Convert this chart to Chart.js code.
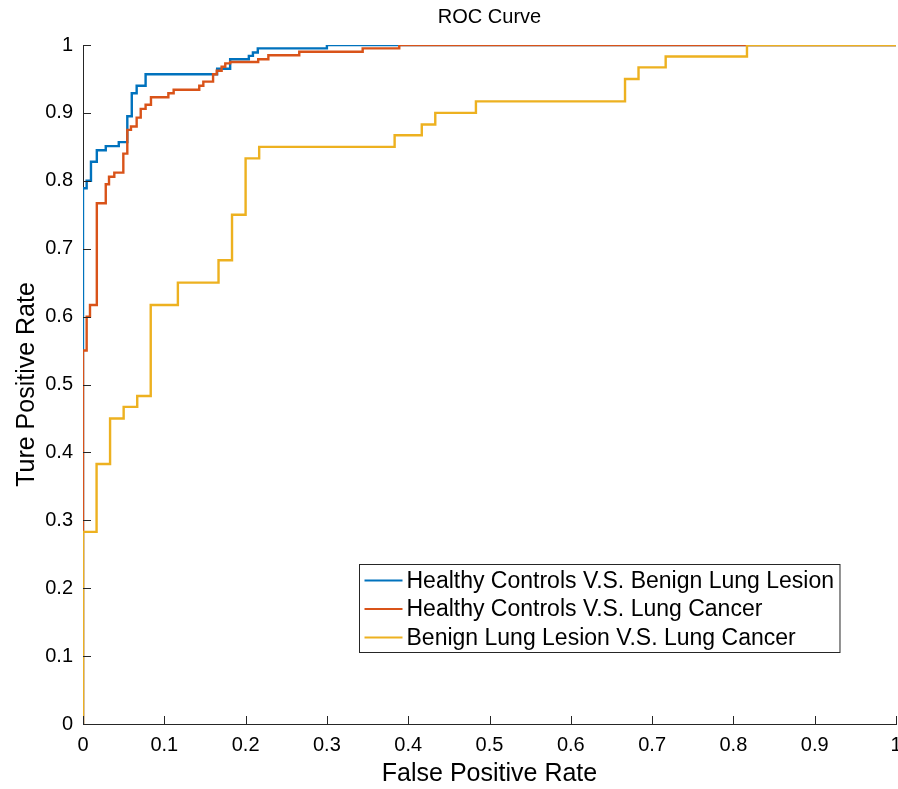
<!DOCTYPE html>
<html>
<head>
<meta charset="utf-8">
<script src="https://cdn.jsdelivr.net/npm/chart.js@4/dist/chart.umd.min.js"></script>
<style>
  html, body { margin: 0; padding: 0; background: #fff; overflow: hidden; }
  #wrap { width: 898px; height: 789px; }
  canvas { display: block; }
</style>
</head>
<body>
<div id="wrap"><canvas id="rocChart" width="898" height="789"></canvas></div>
<script>
// ROC data (fpr where the curve rises, tpr after the rise)
const seriesNames = [
  "Healthy Controls V.S. Benign Lung Lesion",
  "Healthy Controls V.S. Lung Cancer",
  "Benign Lung Lesion V.S. Lung Cancer"
];

const blueFpr = [0, 0, 0.0045, 0.0098, 0.017, 0.028, 0.044, 0.0545, 0.060, 0.066, 0.077, 0.165, 0.181, 0.204, 0.209, 0.215, 0.300, 1];
const blueTpr = [0, 0.789, 0.800, 0.828, 0.845, 0.851, 0.857, 0.895, 0.929, 0.940, 0.957, 0.965, 0.979, 0.984, 0.989, 0.995, 1, 1];

const redFpr = [0, 0, 0.0045, 0.0086, 0.017, 0.028, 0.032, 0.0385, 0.0496, 0.0545, 0.059, 0.066, 0.071, 0.077, 0.0836, 0.105, 0.1115, 0.143, 0.148, 0.160, 0.1645, 0.1705, 0.175, 0.181, 0.2155, 0.228, 0.266, 0.344, 0.389, 1];
const redTpr = [0, 0.550, 0.600, 0.617, 0.767, 0.795, 0.806, 0.812, 0.840, 0.875, 0.880, 0.893, 0.906, 0.912, 0.923, 0.929, 0.934, 0.940, 0.946, 0.957, 0.962, 0.968, 0.973, 0.975, 0.979, 0.985, 0.990, 0.995, 1, 1];

const yellowFpr = [0, 0, 0.0167, 0.0333, 0.05, 0.0667, 0.0833, 0.1167, 0.1667, 0.1833, 0.2, 0.2167, 0.3833, 0.4167, 0.4333, 0.4833, 0.6667, 0.6833, 0.7167, 0.8167, 1];
const yellowTpr = [0, 0.283, 0.383, 0.450, 0.467, 0.483, 0.617, 0.650, 0.683, 0.750, 0.833, 0.850, 0.867, 0.883, 0.900, 0.917, 0.950, 0.967, 0.983, 1, 1];

const tickValues = [0, 0.1, 0.2, 0.3, 0.4, 0.5, 0.6, 0.7, 0.8, 0.9, 1];

const FONT = "'Liberation Sans', Arial, Helvetica, sans-serif";
const AXIS = "#262626";

function toPoints(xs, ys) {
  return xs.map((x, i) => ({ x: x, y: ys[i] }));
}

// inward tick marks like matlab + the legend box inside the axes
const matlabBits = {
  id: "matlabBits",
  afterDraw(chart) {
    const ctx = chart.ctx;
    const area = chart.chartArea;
    const xs = chart.scales.x, ys = chart.scales.y;
    ctx.save();
    ctx.strokeStyle = AXIS;
    ctx.lineWidth = 1;
    ctx.beginPath();
    tickValues.forEach(v => {
      const px = Math.round(xs.getPixelForValue(v)) + 0.5;
      ctx.moveTo(px, area.bottom);
      ctx.lineTo(px, area.bottom - 8);
      const py = Math.round(ys.getPixelForValue(v)) + 0.5;
      ctx.moveTo(area.left, py);
      ctx.lineTo(area.left + 8, py);
    });
    ctx.stroke();

    // legend
    ctx.font = "23px " + FONT;
    let maxW = 0;
    seriesNames.forEach(n => { maxW = Math.max(maxW, ctx.measureText(n).width); });
    const boxW = 47 + maxW + 6;
    const boxH = 88;
    const right = area.right - 57;
    const left = Math.round(right - boxW) + 0.5;
    const top = 564.5;
    ctx.fillStyle = "#fff";
    ctx.fillRect(left, top, boxW, boxH);
    ctx.strokeStyle = AXIS;
    ctx.strokeRect(left, top, boxW, boxH);
    chart.data.datasets.forEach((ds, i) => {
      const cy = top + 16 + i * 28.5;
      ctx.strokeStyle = ds.borderColor;
      ctx.lineWidth = 2;
      ctx.beginPath();
      ctx.moveTo(left + 5, cy);
      ctx.lineTo(left + 43, cy);
      ctx.stroke();
      ctx.fillStyle = "#000";
      ctx.textBaseline = "middle";
      ctx.textAlign = "left";
      ctx.fillText(ds.label, left + 47, cy + 1);
    });
    ctx.restore();
  }
};

const tickFmt = v => String(Number(v.toFixed(1)));

new Chart(document.getElementById("rocChart"), {
  type: "line",
  data: {
    datasets: [
      {
        label: seriesNames[0],
        data: toPoints(blueFpr, blueTpr),
        borderColor: "#0072BD",
        order: 3
      },
      {
        label: seriesNames[1],
        data: toPoints(redFpr, redTpr),
        borderColor: "#D95319",
        order: 2
      },
      {
        label: seriesNames[2],
        data: toPoints(yellowFpr, yellowTpr),
        borderColor: "#EDB120",
        order: 1
      }
    ]
  },
  options: {
    responsive: false,
    animation: false,
    devicePixelRatio: 1,
    elements: {
      line: { stepped: "before", borderWidth: 2.4, fill: false, tension: 0 },
      point: { radius: 0, hoverRadius: 0 }
    },
    layout: { autoPadding: false, padding: { left: 0, right: 2, top: 0, bottom: 0 } },
    plugins: {
      legend: { display: false },
      tooltip: { enabled: false },
      title: {
        display: true,
        fullSize: false,
        text: "ROC Curve",
        color: "#000",
        font: { family: FONT, size: 20, weight: "normal", lineHeight: 1.2 },
        padding: { top: 5, bottom: 16 }
      }
    },
    scales: {
      x: {
        type: "linear",
        min: 0,
        max: 1,
        grid: { display: false, drawTicks: false },
        border: { display: true, color: AXIS, width: 1 },
        ticks: {
          stepSize: 0.1,
          color: "#000",
          padding: 9,
          maxRotation: 0,
          autoSkip: false,
          font: { family: FONT, size: 20 },
          callback: tickFmt
        },
        title: {
          display: true,
          text: "False Positive Rate",
          color: "#000",
          font: { family: FONT, size: 25 },
          padding: { top: 0, bottom: 0 }
        },
        afterFit(scale) {
          scale.height = 65;
          // let the last label hang over the edge, as in the original
          scale.paddingLeft = 0;
          scale.paddingRight = 0;
        }
      },
      y: {
        type: "linear",
        min: 0,
        max: 1,
        grid: { display: false, drawTicks: false },
        border: { display: true, color: AXIS, width: 1 },
        ticks: {
          stepSize: 0.1,
          color: "#000",
          padding: 10,
          autoSkip: false,
          font: { family: FONT, size: 20 },
          callback: tickFmt
        },
        title: {
          display: true,
          text: "Ture Positive Rate",
          color: "#000",
          font: { family: FONT, size: 25 },
          padding: { top: 12, bottom: 0 }
        },
        afterFit(scale) { scale.width = 83; }
      }
    }
  },
  plugins: [matlabBits]
});
</script>
</body>
</html>
